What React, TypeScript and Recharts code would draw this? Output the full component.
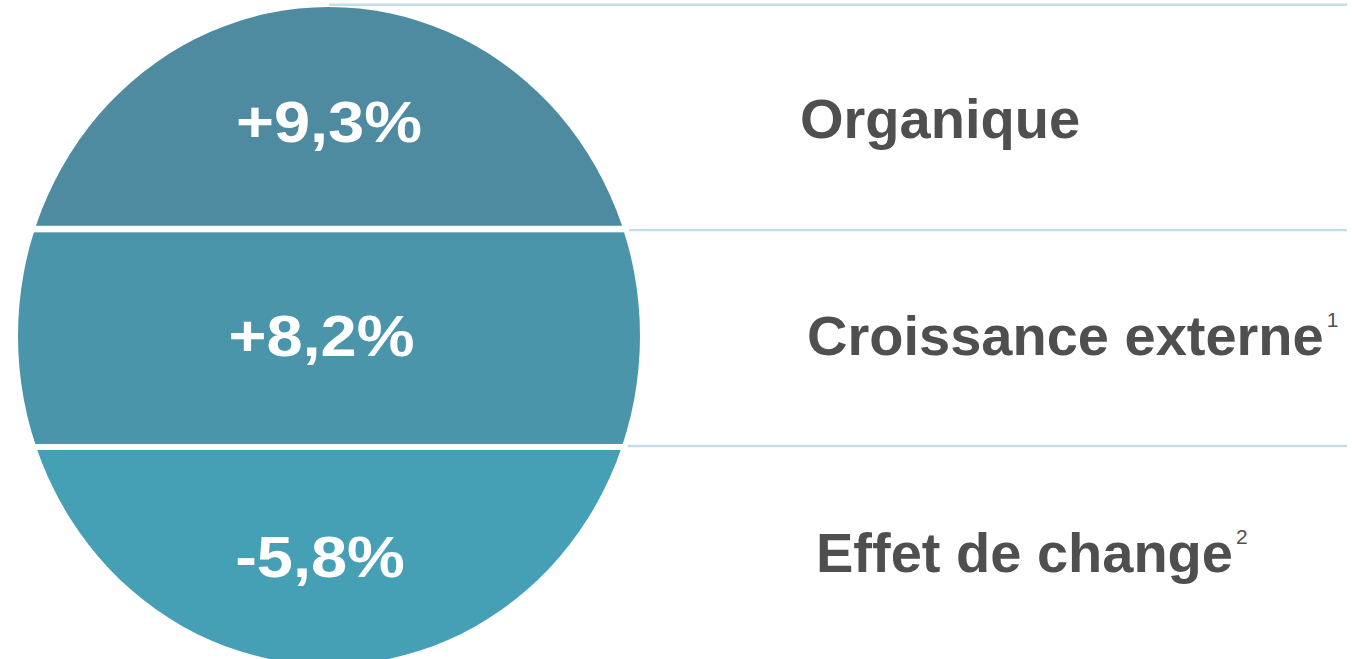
import React from 'react';
import { BarChart, Bar, XAxis, YAxis, LabelList } from 'recharts';

// ---- data ----
const categories = ['Organique', 'Croissance externe', 'Effet de change'];
const growthValues = [9.3, 8.2, -5.8];
const footnotes = ['', '1', '2'];
const bandShares = [1, 1, 1];
const bandColors = ['#4e8ba1', '#4a95aa', '#46a0b5'];

const keys = categories.map((_, i) => `band${i}`);
const chartData = [
  Object.fromEntries([['name', 'variation'], ...keys.map((k, i) => [k, bandShares[i]])]),
];
const total = bandShares.reduce((a, b) => a + b, 0);

// ---- layout / style ----
const W = 1352;
const H = 666;
const MARGIN = { top: 10, right: 712, bottom: 1, left: 18 };
const PLOT_BOTTOM = H - MARGIN.bottom;
const ELLIPSE_TOP = MARGIN.top - 3;
const LINE_COLOR = '#c3dee6';
const LINE_END = W - 5;
const GAP_ABOVE = [0, 4, 3.3];
const GAP_BELOW = [2.6, 2.7, 0];
const LINE_DY = [0, 1.8, -0.7];
const VALUE_DX = [0, -7.5, -9];
const VALUE_DY = [23.3, 18.5, 21.2];
const VALUE_STRETCH = 1.14;
const NAME_DX = [160, 167, 176];
const NAME_DY = [19.3, 17.5, 16.2];
const FONT = '"Liberation Sans", Arial, Helvetica, sans-serif';

const formatPct = (v: number) =>
  (v > 0 ? '+' : '') + v.toFixed(1).replace('.', ',') + '%';

const makeBandShape = (i: number) => (props: any) => {
  const { x, y, width, height } = props;
  const cx = x + width / 2;
  const rx = width / 2;
  const cy = (ELLIPSE_TOP + PLOT_BOTTOM) / 2;
  const ry = (PLOT_BOTTOM - ELLIPSE_TOP) / 2;
  const top = i === 0 ? ELLIPSE_TOP : y + GAP_ABOVE[i];
  const bottom = y + height - GAP_BELOW[i];
  const lineY = i === 0 ? ELLIPSE_TOP - 2.3 : y + LINE_DY[i];
  const edge = (yy: number) =>
    cx + rx * Math.sqrt(Math.max(0, 1 - ((yy - cy) / ry) ** 2));
  const lineStart = i === 0 ? cx : edge(lineY) + 5.5;
  return (
    <g>
      <defs>
        <clipPath id={`clip-band-${i}`}>
          <ellipse cx={cx} cy={cy} rx={rx} ry={ry} />
        </clipPath>
      </defs>
      <rect
        x={x}
        y={top}
        width={width}
        height={Math.max(0, bottom - top)}
        fill={bandColors[i]}
        clipPath={`url(#clip-band-${i})`}
      />
      <line x1={lineStart} x2={LINE_END} y1={lineY} y2={lineY} stroke={LINE_COLOR} strokeWidth={2.4} />
    </g>
  );
};

const box = (p: any) => {
  const vb = p.viewBox && p.viewBox.width != null ? p.viewBox : p;
  return { x: Number(vb.x), y: Number(vb.y), width: Number(vb.width), height: Number(vb.height) };
};

const makeValueLabel = (i: number) => (p: any) => {
  const b = box(p);
  const tx = b.x + b.width / 2 + VALUE_DX[i];
  const ty = b.y + b.height / 2 + VALUE_DY[i];
  return (
    <text
      transform={`translate(${tx} ${ty}) scale(${VALUE_STRETCH} 1)`}
      x={0}
      y={0}
      textAnchor="middle"
      fill="#ffffff"
      fontFamily={FONT}
      fontWeight={700}
      fontSize={57}
    >
      {formatPct(growthValues[i])}
    </text>
  );
};

const makeNameLabel = (i: number) => (p: any) => {
  const b = box(p);
  return (
    <text
      x={b.x + b.width + NAME_DX[i]}
      y={b.y + b.height / 2 + NAME_DY[i]}
      textAnchor="start"
      fill="#4f4f4f"
      fontFamily={FONT}
      fontWeight={700}
      fontSize={56}
    >
      {categories[i]}
      {footnotes[i] ? (
        <tspan dx={3} dy={-28.5} fontSize={21} fontWeight={400}>
          {footnotes[i]}
        </tspan>
      ) : null}
    </text>
  );
};

export default function App() {
  const order = [2, 1, 0];
  return (
    <div
      style={{
        position: 'absolute',
        left: 0,
        top: 0,
        width: W,
        height: 659,
        overflow: 'hidden',
        background: '#ffffff',
      }}
    >
      <BarChart
        width={W}
        height={H}
        data={chartData}
        margin={MARGIN}
        barCategoryGap={0}
        barGap={0}
      >
        <XAxis dataKey="name" hide />
        <YAxis type="number" domain={[0, total]} hide />
        {order.map((i) => (
          <Bar
            key={keys[i]}
            dataKey={keys[i]}
            stackId="s"
            fill={bandColors[i]}
            isAnimationActive={false}
            shape={makeBandShape(i)}
          >
            <LabelList dataKey={keys[i]} content={makeValueLabel(i)} />
            <LabelList dataKey={keys[i]} content={makeNameLabel(i)} />
          </Bar>
        ))}
      </BarChart>
    </div>
  );
}
